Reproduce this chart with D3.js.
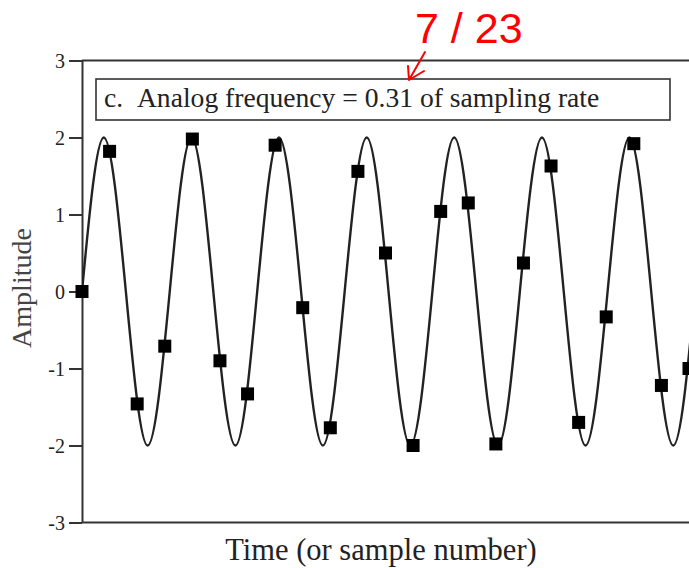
<!DOCTYPE html>
<html>
<head>
<meta charset="utf-8">
<script src="https://cdn.jsdelivr.net/npm/d3@7"></script>
<style>
  html, body { margin: 0; padding: 0; background: #fff; overflow: hidden; }
  svg { display: block; }
</style>
</head>
<body>
<div id="chart"></div>
<script>
const sampleNumbers = d3.range(0, 23);
const sampleValues = [0, 1.82, -1.46, -0.71, 1.98, -0.90, -1.33, 1.90, -0.21, -1.77, 1.56, 0.50,
                      -2.0, 1.04, 1.15, -1.98, 0.37, 1.63, -1.70, -0.33, 1.92, -1.22, -1.0];

// analog signal: peaks, troughs and zero crossings
const analogTimes = [0, 0.79, 1.59, 2.38, 3.18, 3.97, 4.76, 5.56, 6.35, 7.14, 7.94, 8.73, 9.52,
                     10.32, 11.11, 11.90, 12.70, 13.49, 14.29, 15.08, 15.87, 16.67, 17.46, 18.25,
                     19.05, 19.84, 20.63, 21.43, 22.22];
const analogValues = [0, 2, 0, -2, 0, 2, 0, -2, 0, 2, 0, -2, 0,
                      2, 0, -2, 0, 2, 0, -2, 0, 2, 0, -2,
                      0, 2, 0, -2, 0];

const yTicks = [-3, -2, -1, 0, 1, 2, 3];
const legendText = "c.\u00a0\u00a0Analog frequency = 0.31 of sampling rate";
const xLabel = "Time (or sample number)";
const yLabel = "Amplitude";
const noteText = "7 / 23";

const width = 689;
const height = 568;
const plot = { left: 82, right: 689, top: 60.5, bottom: 522.5 };
const serif = "'Liberation Serif', 'Times New Roman', serif";

const svg = d3.select("#chart")
    .append("svg")
    .attr("width", width)
    .attr("height", height);

const x = d3.scaleLinear().domain([0, 22]).range([plot.left, plot.right]);
const y = d3.scaleLinear().domain([-3, 3]).range([plot.bottom, plot.top]);

// clip for the curve
svg.append("clipPath")
    .attr("id", "plot-clip")
    .append("rect")
    .attr("x", plot.left)
    .attr("y", plot.top)
    .attr("width", plot.right - plot.left)
    .attr("height", plot.bottom - plot.top);

// top and bottom frame lines
svg.append("line")
    .attr("x1", plot.left).attr("x2", plot.right)
    .attr("y1", plot.top).attr("y2", plot.top)
    .attr("stroke", "#333").attr("stroke-width", 2);
svg.append("line")
    .attr("x1", plot.left).attr("x2", plot.right)
    .attr("y1", plot.bottom).attr("y2", plot.bottom)
    .attr("stroke", "#333").attr("stroke-width", 2);

// y axis (plain hyphen for negatives, as in the original)
const yAxis = svg.append("g")
    .attr("transform", "translate(" + plot.left + ",0)")
    .call(d3.axisLeft(y).tickValues(yTicks).tickSize(13).tickSizeOuter(0).tickPadding(4)
        .tickFormat(d => String(d)));
yAxis.select(".domain").attr("stroke", "#333").attr("stroke-width", 2);
yAxis.selectAll(".tick line").attr("stroke", "#333").attr("stroke-width", 2);
yAxis.selectAll(".tick text")
    .style("font-family", serif)
    .style("font-size", "20px")
    .attr("fill", "#222")
    .attr("dy", "0.34em");

// legend box
svg.append("rect")
    .attr("x", 96).attr("y", 79)
    .attr("width", 574).attr("height", 41)
    .attr("fill", "#fff")
    .attr("stroke", "#333").attr("stroke-width", 1.6);
svg.append("text")
    .attr("x", 104).attr("y", 107)
    .style("font-family", serif)
    .style("font-size", "27.6px")
    .attr("fill", "#222")
    .text(legendText);

// analog curve
const curveData = analogTimes.map((t, i) => ({ t: t, v: analogValues[i] }));
const line = d3.line()
    .x(d => x(d.t))
    .y(d => y(d.v))
    .curve(d3.curveNatural);
svg.append("path")
    .datum(curveData)
    .attr("clip-path", "url(#plot-clip)")
    .attr("fill", "none")
    .attr("stroke", "#222")
    .attr("stroke-width", 2.4)
    .attr("d", line);

// samples
const size = 13;
svg.selectAll("rect.sample")
    .data(sampleNumbers)
    .enter()
    .append("rect")
    .attr("class", "sample")
    .attr("x", d => x(d) - size / 2)
    .attr("y", (d, i) => y(sampleValues[i]) - size / 2)
    .attr("width", size)
    .attr("height", size)
    .attr("fill", "#000");

// axis titles
svg.append("text")
    .attr("x", 381).attr("y", 560)
    .attr("text-anchor", "middle")
    .style("font-family", serif)
    .style("font-size", "30.5px")
    .attr("fill", "#222")
    .text(xLabel);
svg.append("text")
    .attr("transform", "translate(31,288) rotate(-90)")
    .attr("text-anchor", "middle")
    .style("font-family", serif)
    .style("font-size", "28px")
    .attr("fill", "#444")
    .text(yLabel);

// red annotation
svg.append("text")
    .attr("x", 415).attr("y", 43)
    .style("font-family", "'Liberation Sans', Arial, sans-serif")
    .style("font-size", "43px")
    .attr("fill", "#ff0000")
    .text(noteText);
svg.append("path")
    .attr("d", "M425,52 L409,80 M409,80 L408,66 M409,80 L424,71")
    .attr("fill", "none")
    .attr("stroke", "#ff0000")
    .attr("stroke-width", 2)
    .attr("stroke-linecap", "round");
</script>
</body>
</html>
